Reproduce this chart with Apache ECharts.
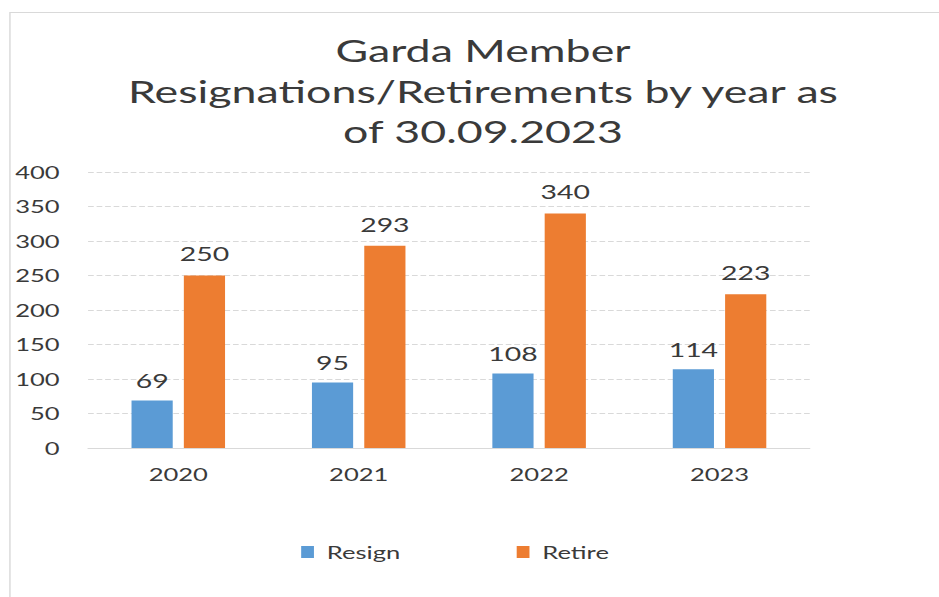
<!DOCTYPE html>
<html><head><meta charset="utf-8">
<script src="https://cdn.jsdelivr.net/npm/echarts@6/dist/echarts.min.js"></script>
<style>html,body{margin:0;padding:0;background:#fff;overflow:hidden}
#wrap{width:939px;height:597px;overflow:hidden}
#c{width:661px;height:597px;transform:scaleX(1.4206);transform-origin:0 0}</style>
</head><body><div id="wrap"><div id="c"></div></div>
<script>
const categories = ['2020', '2021', '2022', '2023'];
const resign = [69, 95, 108, 114];
const retire = [250, 293, 340, 223];
const titleText = 'Garda Member\nResignations/Retirements by year as\nof 30.09.2023';

const chart = echarts.init(document.getElementById('c'), null, { renderer: 'svg' });
const font = 'Lato, "Open Sans", sans-serif';
const txt = '#3a3a3a';
chart.setOption({
  animation: false,
  backgroundColor: '#fff',
  graphic: [{
    type: 'polyline', shape: { points: [[7, 597], [7, 12.5], [661, 12.5]] },
    style: { stroke: '#d9d9d9', lineWidth: 1, fill: null }
  }],
  title: {
    text: titleText, left: 335, top: 25, textAlign: 'center',
    textStyle: { fontFamily: font, fontSize: 31.5, fontWeight: 'normal', color: txt, lineHeight: 40.5 }
  },
  legend: {
    data: ['Resign', 'Retire'], top: 538, left: 207, itemGap: 82,
    itemWidth: 9, itemHeight: 12, icon: 'rect',
    textStyle: { fontFamily: font, fontSize: 18, color: txt, padding: [0, 0, 0, 4] }
  },
  grid: { left: 62, right: 91, top: 172, bottom: 149 },
  xAxis: {
    type: 'category', data: categories,
    axisLine: { lineStyle: { color: '#d9d9d9' } }, axisTick: { show: false },
    axisLabel: { fontFamily: font, fontSize: 18, color: txt, margin: 17 }
  },
  yAxis: {
    type: 'value', min: 0, max: 400, interval: 50,
    axisLine: { show: false }, axisTick: { show: false },
    splitLine: { lineStyle: { color: '#d9d9d9', type: [4, 2] } },
    axisLabel: { fontFamily: font, fontSize: 18, color: txt, margin: 20 }
  },
  series: [
    { name: 'Resign', type: 'bar', data: resign, barWidth: 29, barGap: '27%',
      itemStyle: { color: '#5b9bd5' },
      label: { show: true, position: 'top', distance: 10, fontFamily: font, fontSize: 20, color: txt } },
    { name: 'Retire', type: 'bar', data: retire, barWidth: 29,
      itemStyle: { color: '#ed7d31' },
      label: { show: true, position: 'top', distance: 12, fontFamily: font, fontSize: 20, color: txt } }
  ]
});
</script></body></html>
